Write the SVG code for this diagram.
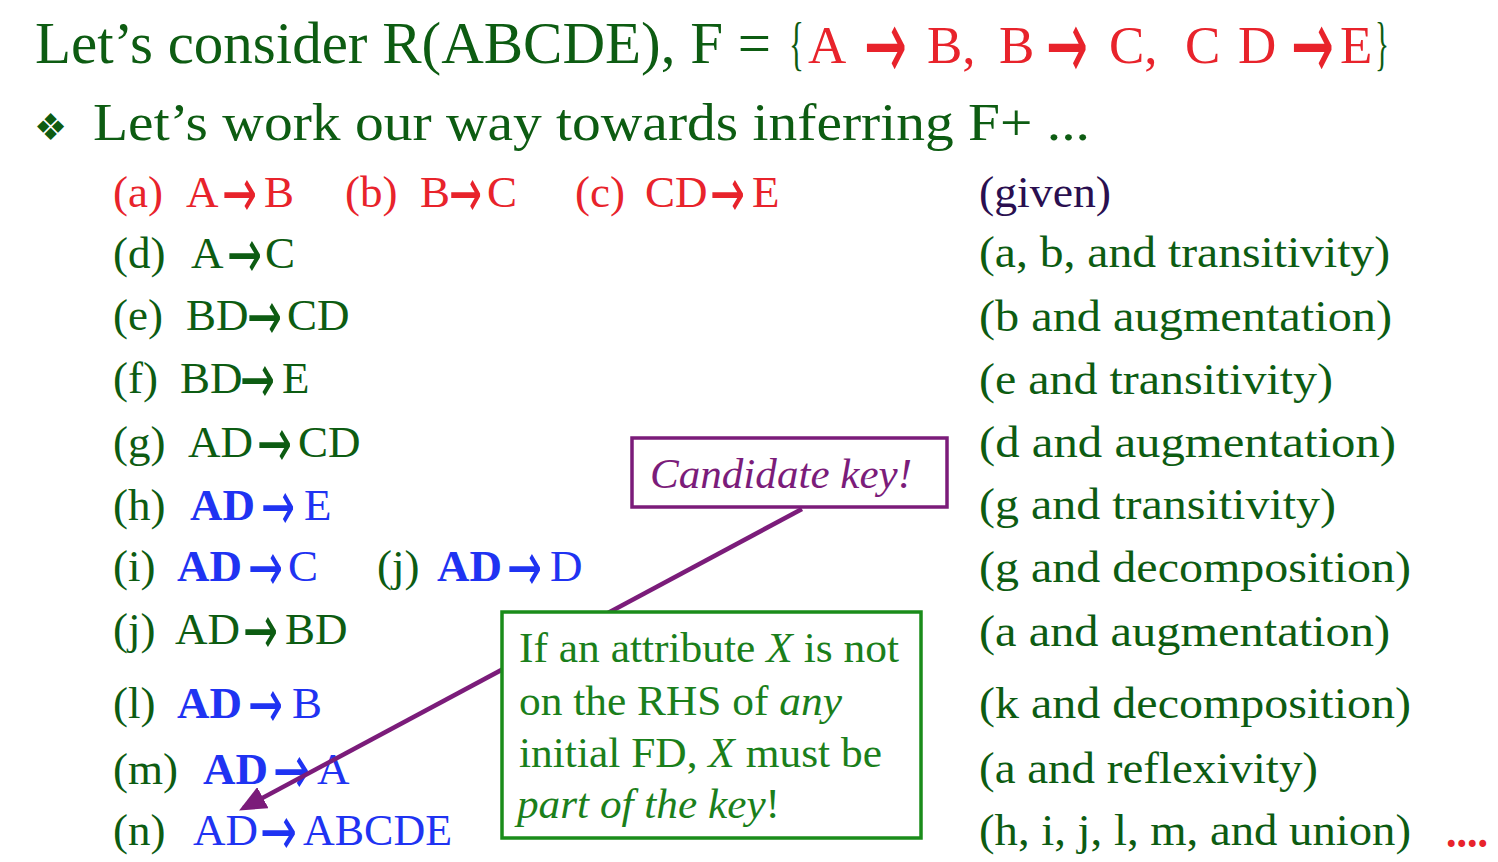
<svg xmlns="http://www.w3.org/2000/svg" width="1498" height="862" viewBox="0 0 1498 862">
<defs>
<style>
text{font-family:"Liberation Serif","DejaVu Serif",serif;}
.g{fill:#0D5C12;}
.r{fill:#E8232B;}
.b{fill:#1F33F2;}
.gv{fill:#2A0F50;}
.L{font-size:45px;}
.bd{font-weight:bold;}
.ar{font-family:"DejaVu Sans",sans-serif;font-weight:normal;}
.la{font-size:70px;}
.ta{font-size:100px;}
.tt{font-size:60px;}
.tr{font-size:53px;}
.note{font-size:42px;fill:#1B7F1B;}
.ck{font-size:42px;fill:#7B1C7A;font-style:italic;}
.i{font-style:italic;}
</style>
<marker id="ah" markerUnits="userSpaceOnUse" markerWidth="27" markerHeight="24" refX="22" refY="12" orient="auto">
<path d="M0,0 L27,12 L0,24 z" fill="#7B1C7A"/>
</marker>
</defs>
<rect width="1498" height="862" fill="#FFFFFF"/>

<g id="title">
<text class="g tt" x="35" y="63" textLength="736" lengthAdjust="spacingAndGlyphs">Let’s consider R(ABCDE), F =</text>
<text class="g tt" x="789" y="63" textLength="15" lengthAdjust="spacingAndGlyphs">{</text>
<text class="r tr" x="808" y="63">A</text>
<text class="r ar ta" x="864" y="79" textLength="43" lengthAdjust="spacingAndGlyphs">→</text>
<text class="r tr" x="927" y="63">B,</text>
<text class="r tr" x="999" y="63">B</text>
<text class="r ar ta" x="1046" y="79" textLength="42" lengthAdjust="spacingAndGlyphs">→</text>
<text class="r tr" x="1109" y="63">C,</text>
<text class="r tr" x="1185" y="63">C</text>
<text class="r tr" x="1238" y="63">D</text>
<text class="r ar ta" x="1291" y="79" textLength="43" lengthAdjust="spacingAndGlyphs">→</text>
<text class="r tr" x="1340" y="63">E</text>
<text class="g tt" x="1375" y="63" textLength="14" lengthAdjust="spacingAndGlyphs">}</text>
</g>

<g id="bullet">
<text class="g" x="34" y="140" style="font-family:'DejaVu Sans',sans-serif;font-size:37px;">❖</text>
<text class="g tr" x="93" y="140" textLength="997" lengthAdjust="spacingAndGlyphs">Let’s work our way towards inferring F+ ...</text>
</g>

<g id="row-a">
<text class="r L" x="113" y="207">(a)</text>
<text class="r L" x="186" y="207">A</text>
<text class="r ar la" x="222" y="217" textLength="35" lengthAdjust="spacingAndGlyphs">→</text>
<text class="r L" x="264" y="207">B</text>
</g>
<g id="row-b">
<text class="r L" x="345" y="207">(b)</text>
<text class="r L" x="420" y="207">B</text>
<text class="r ar la" x="449" y="217" textLength="33" lengthAdjust="spacingAndGlyphs">→</text>
<text class="r L" x="487" y="207">C</text>
</g>
<g id="row-c">
<text class="r L" x="575" y="207">(c)</text>
<text class="r L" x="645" y="207">CD</text>
<text class="r ar la" x="710" y="217" textLength="35" lengthAdjust="spacingAndGlyphs">→</text>
<text class="r L" x="752" y="207">E</text>
</g>
<g id="row-d">
<text class="g L" x="113" y="268">(d)</text>
<text class="g L" x="191" y="268">A</text>
<text class="g ar la" x="227" y="278" textLength="35" lengthAdjust="spacingAndGlyphs">→</text>
<text class="g L" x="265" y="268">C</text>
</g>
<g id="row-e">
<text class="g L" x="113" y="330">(e)</text>
<text class="g L" x="186" y="330">BD</text>
<text class="g ar la" x="247" y="340" textLength="35" lengthAdjust="spacingAndGlyphs">→</text>
<text class="g L" x="287" y="330">CD</text>
</g>
<g id="row-f">
<text class="g L" x="113" y="393">(f)</text>
<text class="g L" x="180" y="393">BD</text>
<text class="g ar la" x="240" y="403" textLength="35" lengthAdjust="spacingAndGlyphs">→</text>
<text class="g L" x="282" y="393">E</text>
</g>
<g id="row-g">
<text class="g L" x="113" y="457">(g)</text>
<text class="g L" x="188" y="457">AD</text>
<text class="g ar la" x="257" y="467" textLength="35" lengthAdjust="spacingAndGlyphs">→</text>
<text class="g L" x="298" y="457">CD</text>
</g>
<g id="row-h">
<text class="g L" x="113" y="520">(h)</text>
<text class="b L bd" x="190" y="520">AD</text>
<text class="b ar la" x="261" y="530" textLength="34" lengthAdjust="spacingAndGlyphs">→</text>
<text class="b L" x="304" y="520">E</text>
</g>
<g id="row-i">
<text class="g L" x="113" y="581">(i)</text>
<text class="b L bd" x="177" y="581">AD</text>
<text class="b ar la" x="248" y="591" textLength="35" lengthAdjust="spacingAndGlyphs">→</text>
<text class="b L" x="288" y="581">C</text>
</g>
<g id="row-j1">
<text class="g L" x="377" y="581">(j)</text>
<text class="b L bd" x="437" y="581">AD</text>
<text class="b ar la" x="507" y="591" textLength="35" lengthAdjust="spacingAndGlyphs">→</text>
<text class="b L" x="550" y="581">D</text>
</g>
<g id="row-j2">
<text class="g L" x="113" y="644">(j)</text>
<text class="g L" x="175" y="644">AD</text>
<text class="g ar la" x="243" y="654" textLength="35" lengthAdjust="spacingAndGlyphs">→</text>
<text class="g L" x="285" y="644">BD</text>
</g>
<g id="row-l">
<text class="g L" x="113" y="718">(l)</text>
<text class="b L bd" x="177" y="718">AD</text>
<text class="b ar la" x="248" y="728" textLength="35" lengthAdjust="spacingAndGlyphs">→</text>
<text class="b L" x="292" y="718">B</text>
</g>
<g id="row-m">
<text class="g L" x="113" y="784">(m)</text>
<text class="b L bd" x="203" y="784">AD</text>
<text class="b ar la" x="273" y="794" textLength="37" lengthAdjust="spacingAndGlyphs">→</text>
<text class="b L" x="317" y="784">A</text>
</g>
<g id="row-n">
<text class="g L" x="113" y="845">(n)</text>
<text class="b L" x="193" y="845">AD</text>
<text class="b ar la" x="260" y="855" textLength="37" lengthAdjust="spacingAndGlyphs">→</text>
<text class="b L" x="303" y="845" textLength="149" lengthAdjust="spacingAndGlyphs">ABCDE</text>
</g>

<g id="reasons">
<text class="gv L" x="979" y="207" textLength="132" lengthAdjust="spacingAndGlyphs">(given)</text>
<text class="g L" x="979" y="267" textLength="411" lengthAdjust="spacingAndGlyphs">(a, b, and transitivity)</text>
<text class="g L" x="979" y="331" textLength="413" lengthAdjust="spacingAndGlyphs">(b and augmentation)</text>
<text class="g L" x="979" y="394" textLength="354" lengthAdjust="spacingAndGlyphs">(e and transitivity)</text>
<text class="g L" x="979" y="457" textLength="417" lengthAdjust="spacingAndGlyphs">(d and augmentation)</text>
<text class="g L" x="979" y="519" textLength="357" lengthAdjust="spacingAndGlyphs">(g and transitivity)</text>
<text class="g L" x="979" y="582" textLength="432" lengthAdjust="spacingAndGlyphs">(g and decomposition)</text>
<text class="g L" x="979" y="646" textLength="411" lengthAdjust="spacingAndGlyphs">(a and augmentation)</text>
<text class="g L" x="979" y="718" textLength="432" lengthAdjust="spacingAndGlyphs">(k and decomposition)</text>
<text class="g L" x="979" y="783" textLength="339" lengthAdjust="spacingAndGlyphs">(a and reflexivity)</text>
<text class="g L" x="979" y="845" textLength="432" lengthAdjust="spacingAndGlyphs">(h, i, j, l, m, and union)</text>
<text class="r L bd" x="1446" y="847" textLength="42" lengthAdjust="spacingAndGlyphs">....</text>
</g>

<g id="connectors">
<line x1="802" y1="509" x2="243.5" y2="808.1" stroke="#7B1C7A" stroke-width="4.5" marker-end="url(#ah)"/>
</g>

<g id="candidate-key">
<rect x="632" y="438" width="315" height="69" fill="#FFFFFF" stroke="#7B1C7A" stroke-width="3.5"/>
<text class="ck" x="650" y="488" textLength="262" lengthAdjust="spacingAndGlyphs">Candidate key!</text>
</g>

<g id="note">
<rect x="502" y="612" width="419" height="226" fill="#FFFFFF" stroke="#1A8C1A" stroke-width="3.5"/>
<text class="note" x="519" y="662" textLength="380" lengthAdjust="spacingAndGlyphs">If an attribute <tspan class="i">X</tspan> is not</text>
<text class="note" x="519" y="715" textLength="323" lengthAdjust="spacingAndGlyphs">on the RHS of <tspan class="i">any</tspan></text>
<text class="note" x="519" y="767" textLength="363" lengthAdjust="spacingAndGlyphs">initial FD, <tspan class="i">X</tspan> must be</text>
<text class="note" x="517" y="818" textLength="263" lengthAdjust="spacingAndGlyphs"><tspan class="i">part of the key</tspan>!</text>
</g>
</svg>
